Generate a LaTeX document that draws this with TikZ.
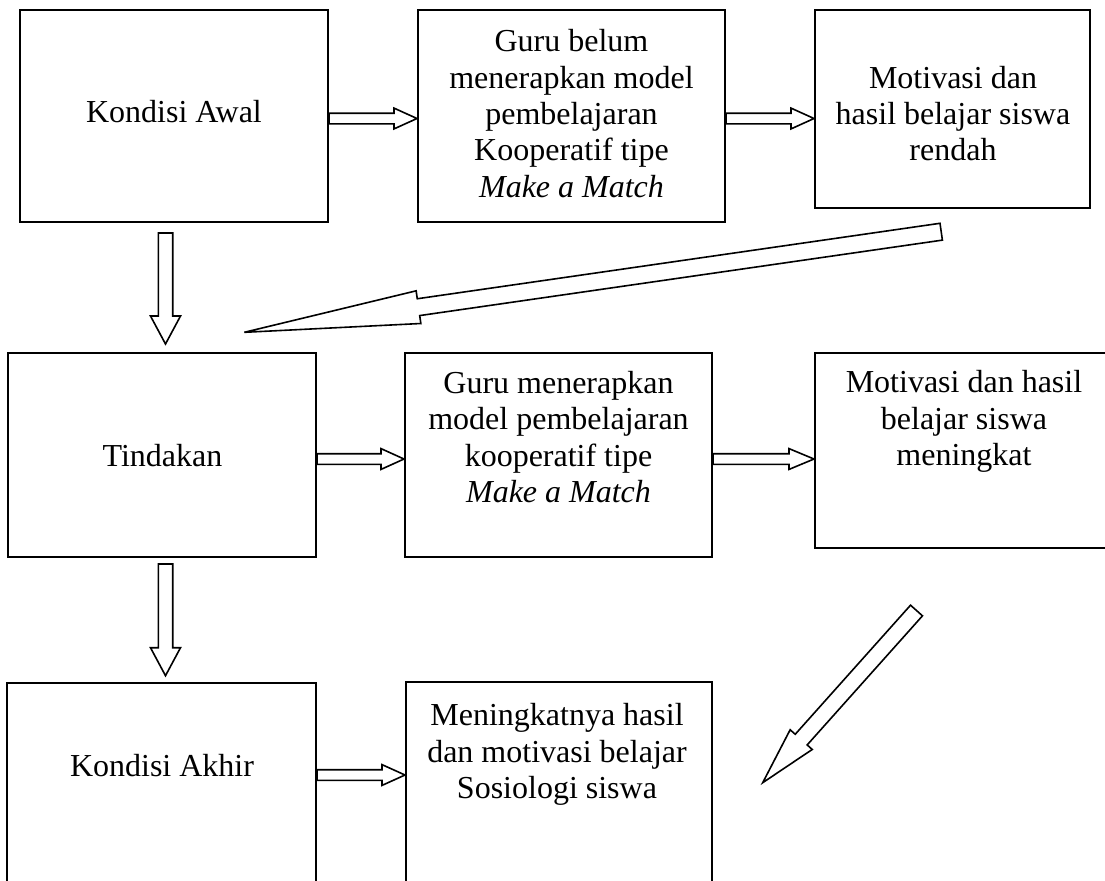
\documentclass[tikz,border=0pt]{standalone}
\usepackage{fontspec}
\setmainfont{Liberation Serif}
\usetikzlibrary{calc}

% outlined block arrow: tail, tip, half shaft, half head, head length
\newcommand{\blockarrow}[5]{%
  \coordinate (ba) at ($(#2)!#5!(#1)$);
  \draw[arrowline] ($(#1)!#3!90:(#2)$) -- ($(ba)!#3!90:(#2)$) -- ($(ba)!#4!90:(#2)$)
    -- (#2) -- ($(ba)!#4!-90:(#2)$) -- ($(ba)!#3!-90:(#2)$) -- ($(#1)!#3!-90:(#2)$) -- cycle;
}

\begin{document}
\begin{tikzpicture}[x=0.5pt,y=-0.5pt,
  box/.style={draw,line width=1pt,inner sep=0pt},
  txt/.style={align=center,inner sep=0pt,font=\fontsize{16}{18.2}\selectfont},
  arrowline/.style={draw,line width=0.8pt,fill=white}]
  \useasboundingbox (0,0) rectangle (1105,880);
  % Top row
  \node[box,minimum width=154pt,minimum height=106pt]   (KA)  at (174,116) {};
  \node[box,minimum width=153.5pt,minimum height=106pt] (GB)  at (571.5,116) {};
  \node[box,minimum width=137.5pt,minimum height=99pt]  (MR)  at (952.5,109) {};
  \node[txt] (KAt) at (174,112) {Kondisi Awal};
  \node[txt] (GBt) at (571.5,113.5) {Guru belum\\menerapkan model\\pembelajaran\\Kooperatif tipe\\\textit{Make a Match}};
  \node[txt] (MRt) at (953,113.5) {Motivasi dan\\hasil belajar siswa\\rendah};
  % Middle row
  \node[box,minimum width=154pt,minimum height=102pt]   (T)   at (162,455) {};
  \node[box,minimum width=153.5pt,minimum height=102pt] (GM)  at (558.5,455) {};
  \node[box,minimum width=148.5pt,minimum height=97.5pt] (MM) at (963.5,450.5) {};
  \node[txt] (Tt)  at (162.5,456) {Tindakan};
  \node[txt] (GMt) at (558.5,437) {Guru menerapkan\\model pembelajaran\\kooperatif tipe\\\textit{Make a Match}};
  \node[txt] (MMt) at (964,421.5) {Motivasi dan hasil\\belajar siswa\\meningkat};
  % Bottom row
  \node[box,minimum width=154.5pt,minimum height=104.5pt] (KAk) at (161.5,787.5) {};
  \node[box,minimum width=153pt,minimum height=105pt]     (MH)  at (559,787) {};
  \node[txt] (KAkt) at (162,766) {Kondisi Akhir};
  \node[txt] (MHt)  at (557,754.5) {Meningkatnya hasil\\dan motivasi belajar\\Sosiologi siswa};
  % arrow ends
  \coordinate (a1s) at (KA.east |- 0,118.5);  \coordinate (a1e) at (GB.west |- 0,118.5);
  \coordinate (a2s) at (GB.east |- 0,118.5);  \coordinate (a2e) at (MR.west |- 0,118.5);
  \coordinate (a3s) at (T.east |- 0,459);     \coordinate (a3e) at (GM.west |- 0,459);
  \coordinate (a4s) at (GM.east |- 0,459);    \coordinate (a4e) at (MM.west |- 0,459);
  \coordinate (a5s) at (KAk.east |- 0,775);   \coordinate (a5e) at (MH.west |- 0,775);
  \coordinate (v1s) at ($(KA.south)+(-8.5,10)$); \coordinate (v1e) at ($(T.north)+(3.5,-8)$);
  \coordinate (v2s) at ($(T.south)+(3.5,6)$);    \coordinate (v2e) at ($(KAk.north)+(4,-6.3)$);
  \coordinate (d1s) at (941.2,231.7);  \coordinate (d1e) at (244.3,332.3);
  \coordinate (d2s) at (916.5,610.5);  \coordinate (d2e) at (762.7,782.7);
  % arrows
  \blockarrow{a1s}{a1e}{2.65pt}{5.2pt}{11.5pt}
  \blockarrow{a2s}{a2e}{2.65pt}{5.2pt}{11.5pt}
  \blockarrow{a3s}{a3e}{2.65pt}{5.2pt}{11.5pt}
  \blockarrow{a4s}{a4e}{2.65pt}{5.2pt}{12.5pt}
  \blockarrow{a5s}{a5e}{2.65pt}{5.2pt}{11.5pt}
  \blockarrow{v1s}{v1e}{3.6pt}{7.5pt}{14pt}
  \blockarrow{v2s}{v2e}{3.6pt}{7.5pt}{14pt}
  \blockarrow{d1s}{d1e}{4.25pt}{8.25pt}{88pt}
  \blockarrow{d2s}{d2e}{4pt}{7.4pt}{28.9pt}
\end{tikzpicture}
\end{document}
